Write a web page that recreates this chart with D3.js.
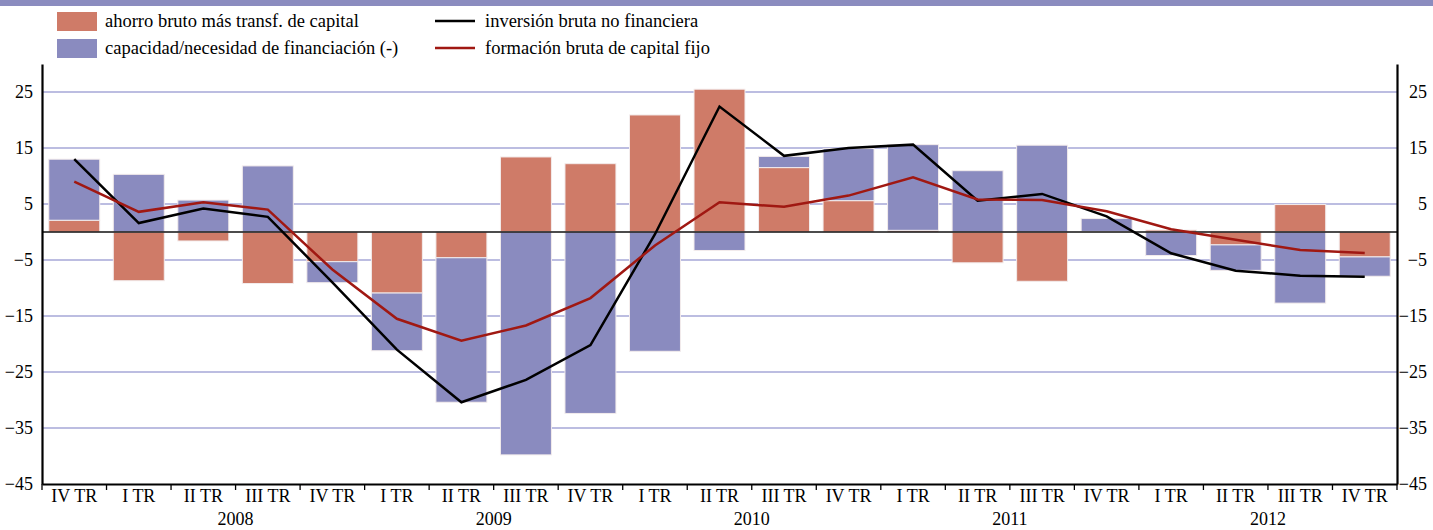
<!DOCTYPE html>
<html>
<head>
<meta charset="utf-8">
<script src="https://cdn.jsdelivr.net/npm/d3@7"></script>
<style>
  body { margin: 0; background: #fff; }
  svg text { font-family: "Liberation Serif", "Times New Roman", serif; fill: #000; }
</style>
</head>
<body>
<div id="chart"></div>
<script>
const quarters = ["IV TR", "I TR", "II TR", "III TR", "IV TR", "I TR", "II TR", "III TR", "IV TR",
    "I TR", "II TR", "III TR", "IV TR", "I TR", "II TR", "III TR", "IV TR", "I TR", "II TR", "III TR", "IV TR"]
const years = ["2008", "2009", "2010", "2011", "2012"]
const yTicks = [-45, -35, -25, -15, -5, 5, 15, 25]

// ahorro bruto más transf. de capital
const ahorro = [2.1, -8.7, -1.6, -9.2, -5.3, -10.9, -4.6, 13.4, 12.2, 20.9, 25.5,
    11.5, 5.6, 0.3, -5.5, -8.8, 0.1, 0.35, -2.3, 4.9, -4.45]
// capacidad/necesidad de financiación (-)
const capacidad = [10.9, 10.3, 5.7, 11.8, -3.75, -10.3, -25.8, -39.8, -32.4, -21.3, -3.3,
    2.0, 9.3, 15.3, 10.95, 15.5, 2.3, -4.2, -4.55, -12.7, -3.45]
// inversión bruta no financiera
const inversion = [13.0, 1.6, 4.2, 2.7, -9.0, -21.0, -30.4, -26.4, -20.2, -0.4, 22.4,
    13.6, 15.0, 15.6, 5.6, 6.8, 2.8, -3.8, -6.9, -7.8, -8.0]
// formación bruta de capital fijo
const formacion = [9.0, 3.6, 5.3, 4.0, -6.7, -15.5, -19.4, -16.7, -11.8, -2.4, 5.3,
    4.5, 6.5, 9.75, 5.8, 5.7, 3.7, 0.5, -1.4, -3.2, -3.75]

const width = 1433, height = 530
const plotLeft = 42, plotRight = 1397, plotTop = 64, plotBottom = 484
const salmon = "#cf7b68", lilac = "#8a8bbf", red = "#a01812"
const serif = '"Liberation Serif", "Times New Roman", serif'

const svg = d3.select("#chart").append("svg")
    .attr("width", width)
    .attr("height", height)

const x = d3.scaleBand()
    .domain(d3.range(quarters.length))
    .range([plotLeft, plotRight])
    .paddingInner(0.21)
    .paddingOuter(0.105)

const y = d3.scaleLinear()
    .domain([-45, 30])
    .range([plotBottom, plotTop])

// top band
svg.append("rect")
    .attr("x", 0).attr("y", 0)
    .attr("width", width).attr("height", 6)
    .attr("fill", "#8b8cbf")

// grid
svg.append("g")
    .selectAll("line")
    .data(yTicks.filter(d => d > -45))
    .enter().append("line")
    .attr("x1", plotLeft).attr("x2", plotRight)
    .attr("y1", d => y(d)).attr("y2", d => y(d))
    .attr("stroke", "#a6a7d7")
    .attr("stroke-width", 1.4)

// stacked bars
const rows = quarters.map((q, i) => ({ i: i, ahorro: ahorro[i], capacidad: capacidad[i] }))
const series = d3.stack()
    .keys(["ahorro", "capacidad"])
    .offset(d3.stackOffsetDiverging)(rows)
const colors = { ahorro: salmon, capacidad: lilac }

svg.append("g")
    .selectAll("g")
    .data(series)
    .enter().append("g")
    .attr("fill", d => colors[d.key])
    .selectAll("rect")
    .data(d => d)
    .enter().append("rect")
    .attr("x", d => x(d.data.i))
    .attr("width", x.bandwidth())
    .attr("y", d => y(Math.max(d[0], d[1])))
    .attr("height", d => Math.abs(y(d[0]) - y(d[1])))
    .attr("stroke", "#f3ecec")
    .attr("stroke-width", 1)

// zero line
svg.append("line")
    .attr("x1", plotLeft).attr("x2", plotRight)
    .attr("y1", y(0)).attr("y2", y(0))
    .attr("stroke", "#111")
    .attr("stroke-width", 1.6)

// lines
const line = d3.line()
    .x((d, i) => x(i) + x.bandwidth() / 2)
    .y(d => y(d))

svg.append("path")
    .datum(inversion)
    .attr("d", line)
    .attr("fill", "none")
    .attr("stroke", "#000")
    .attr("stroke-width", 2.5)

svg.append("path")
    .datum(formacion)
    .attr("d", line)
    .attr("fill", "none")
    .attr("stroke", red)
    .attr("stroke-width", 2.5)

// axes
const yLeft = svg.append("g")
    .attr("transform", `translate(${plotLeft},0)`)
    .call(d3.axisLeft(y).tickValues(yTicks).tickSize(0).tickPadding(9).tickFormat(d3.format("d")))
const yRight = svg.append("g")
    .attr("transform", `translate(${plotRight},0)`)
    .call(d3.axisRight(y).tickValues(yTicks).tickSize(0).tickPadding(12).tickFormat(d3.format("d")))
// right labels are right-aligned near the page edge
yRight.selectAll("text").attr("text-anchor", "end").attr("x", 30)

const xAxis = svg.append("g")
    .attr("transform", `translate(0,${plotBottom})`)
    .call(d3.axisBottom(x).tickSize(0).tickPadding(5).tickFormat(i => quarters[i]))

for (const g of [yLeft, yRight, xAxis]) {
    g.select(".domain").attr("stroke", "#000").attr("stroke-width", 2.2)
    g.selectAll("text").attr("font-size", 18).attr("fill", "#000").style("font-family", serif)
}

// quarter separators
svg.append("g")
    .selectAll("line")
    .data(d3.range(quarters.length + 1))
    .enter().append("line")
    .attr("x1", i => plotLeft + i * x.step())
    .attr("x2", i => plotLeft + i * x.step())
    .attr("y1", plotBottom)
    .attr("y2", plotBottom + 6)
    .attr("stroke", "#000")
    .attr("stroke-width", 1.3)

// years, under quarters I-IV
svg.append("g")
    .selectAll("text")
    .data(years)
    .enter().append("text")
    .attr("x", (d, k) => (x(1 + 4 * k) + x(4 + 4 * k) + x.bandwidth()) / 2)
    .attr("y", 525)
    .attr("text-anchor", "middle")
    .attr("font-size", 18)
    .text(d => d)

// legend
const legend = svg.append("g")
const boxes = [
    { label: "ahorro bruto más transf. de capital", color: salmon },
    { label: "capacidad/necesidad de financiación (-)", color: lilac }
]
const strokes = [
    { label: "inversión bruta no financiera", color: "#000" },
    { label: "formación bruta de capital fijo", color: red }
]

legend.selectAll(".box")
    .data(boxes)
    .enter().append("rect")
    .attr("x", 57)
    .attr("y", (d, i) => 12 + i * 27)
    .attr("width", 40)
    .attr("height", 19)
    .attr("fill", d => d.color)

legend.selectAll(".boxlabel")
    .data(boxes)
    .enter().append("text")
    .attr("x", 105)
    .attr("y", (d, i) => 27 + i * 27)
    .attr("font-size", 18.5)
    .text(d => d.label)

legend.selectAll(".stroke")
    .data(strokes)
    .enter().append("line")
    .attr("x1", 435).attr("x2", 475)
    .attr("y1", (d, i) => 21 + i * 27)
    .attr("y2", (d, i) => 21 + i * 27)
    .attr("stroke", d => d.color)
    .attr("stroke-width", 2.5)

legend.selectAll(".strokelabel")
    .data(strokes)
    .enter().append("text")
    .attr("x", 485)
    .attr("y", (d, i) => 27 + i * 27)
    .attr("font-size", 18.5)
    .text(d => d.label)
</script>
</body>
</html>
